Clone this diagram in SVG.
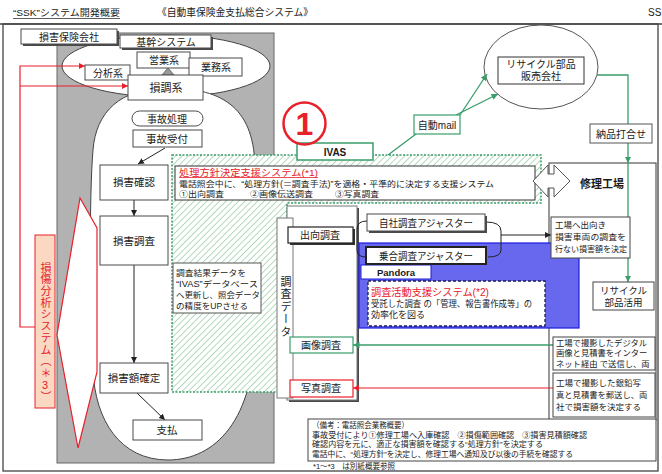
<svg xmlns="http://www.w3.org/2000/svg" width="662" height="474" viewBox="0 0 662 474" font-size="10">
<defs>
<style>
text{font-family:"Liberation Sans","Noto Sans CJK JP","Noto Sans CJK SC",sans-serif;fill:#1a1a1a}
.m{text-anchor:middle}
.n{font-size:10.5px}
.b{fill:#fff;stroke:#4a4a4a;stroke-width:1}
.sh{fill:#4a4a4a}
.lat{font-weight:bold}
.r{fill:#e8202a}
.vt{writing-mode:vertical-rl;text-orientation:upright}
.kl{stroke:#222;stroke-width:1;fill:none}
.gl{stroke:#3a9d6a;stroke-width:1.3;fill:none}
.rl{stroke:#e8202a;stroke-width:1.2;fill:none}
</style>
<pattern id="hatch" width="4.5" height="4.5" patternUnits="userSpaceOnUse" patternTransform="rotate(45)">
<rect width="4.5" height="4.5" fill="#fff"/>
<line x1="0" y1="0" x2="0" y2="4.5" stroke="#8cc79a" stroke-width="1.3"/>
</pattern>
<marker id="ak" viewBox="0 0 10 10" refX="10" refY="5" markerWidth="6" markerHeight="6" orient="auto"><path d="M0,0 L10,5 L0,10 z" fill="#222"/></marker>
<marker id="ag" viewBox="0 0 10 10" refX="10" refY="5" markerWidth="5" markerHeight="5" orient="auto"><path d="M0,0 L10,5 L0,10 z" fill="#3a9d6a"/></marker>
<marker id="ar" viewBox="0 0 10 10" refX="10" refY="5" markerWidth="5" markerHeight="5" orient="auto"><path d="M0,0 L10,5 L0,10 z" fill="#e8202a"/></marker>
</defs>
<rect x="0" y="0" width="662" height="474" fill="#fff"/>

<g id="header">
<text x="13" y="16" font-size="9.5" textLength="107" lengthAdjust="spacingAndGlyphs">“SSK”システム開発概要</text>
<line x1="13" y1="18.5" x2="120" y2="18.5" stroke="#333" stroke-width="0.8"/>
<text x="157" y="16" font-size="9.8" textLength="156" lengthAdjust="spacingAndGlyphs">《自動車保険金支払総合システム》</text>
<text x="648" y="16">SS</text>
<line x1="0" y1="24" x2="662" y2="24" stroke="#444" stroke-width="1.3"/>
</g>

<g id="frame">
<rect x="3" y="24" width="655" height="447" fill="none" stroke="#444" stroke-width="1.3"/>
<rect x="57" y="33" width="217" height="430" fill="#b2b2b2" stroke="#666"/>
<ellipse cx="166" cy="66" rx="104" ry="31" fill="#fff" stroke="#444"/>
<path d="M168,88 C225,88 255,110 255,170 L255,330 C255,420 215,460 168,460 C120,460 95,420 93,370 C90,300 89,200 93,150 C96,112 120,88 168,88 Z" fill="#fff" stroke="#444"/>
</g>

<g id="callout">
<polygon points="80,198 97,228 97,372 78,448 57,335" fill="#fff" stroke="#e8202a" stroke-width="1.2"/>
</g>

<g id="damage-analysis">
<rect x="35" y="235" width="20" height="173" fill="#fbd8c2" stroke="#e8202a"/>
<text x="45" y="262" class="vt r" font-size="11" letter-spacing="0.7">損傷分析システム（＊3）</text>
</g>

<g id="policy-support">
<polygon points="172,155 541,155 541,203 287,203 287,392 172,392" fill="url(#hatch)" stroke="#3a9d6a" stroke-width="1.5" stroke-dasharray="2 1.5"/>
<rect x="175" y="166" width="360" height="34" fill="#fff" stroke="#333"/>
<text x="179" y="175.5" class="r" font-size="9.5" textLength="139" lengthAdjust="spacingAndGlyphs">処理方針決定支援システム(*1)</text>
<line x1="179" y1="177.5" x2="318" y2="177.5" stroke="#e8202a" stroke-width="0.8"/>
<text x="179" y="187" font-size="8.5" textLength="315" lengthAdjust="spacingAndGlyphs">電話照会中に、“処理方針(＝調査手法)”を適格・平準的に決定する支援システム</text>
<text x="179" y="197.3" font-size="8.5" textLength="45" lengthAdjust="spacingAndGlyphs">①出向調査</text>
<text x="250" y="197.3" font-size="8.5" textLength="63" lengthAdjust="spacingAndGlyphs">②画像伝送調査</text>
<text x="335" y="197.3" font-size="8.5" textLength="44" lengthAdjust="spacingAndGlyphs">③写真調査</text>
</g>

<g id="ivas-update">
<rect x="173" y="263" width="88" height="50" fill="#fff" stroke="#555"/>
<text x="176" y="275.5" font-size="8.5" textLength="70" lengthAdjust="spacingAndGlyphs">調査結果データを</text>
<text x="176" y="286.5" font-size="8.5" textLength="82" lengthAdjust="spacingAndGlyphs">“IVAS”データベース</text>
<text x="176" y="297.5" font-size="8.5" textLength="84" lengthAdjust="spacingAndGlyphs">へ更新し、照会データ</text>
<text x="176" y="308.5" font-size="8.5" textLength="72" lengthAdjust="spacingAndGlyphs">の精度をUPさせる</text>
</g>

<g id="repair-shop">
<rect x="549" y="163" width="107" height="257" fill="#fff" stroke="#555" stroke-width="1.2"/>
<text x="602" y="188" class="m" font-size="11" font-weight="bold">修理工場</text>
<polygon points="533,181 548,165 548,174 554,174 554,165 570,181 554,197 554,188 548,188 548,197" fill="#fff" stroke="#555"/>
</g>

<g id="survey-frame">
<rect x="289" y="208" width="70" height="194" class="sh"/>
<rect x="287" y="206" width="70" height="194" fill="#fff" stroke="#777"/>
</g>

<g id="survey-data">
<rect x="277" y="218" width="16" height="180" fill="#fff" stroke="#777"/>
<text x="285" y="276" class="vt" font-size="11" letter-spacing="1.5">調査データ</text>
</g>

<g id="pandora">
<rect x="359" y="243" width="220" height="85" fill="#6868ef" stroke="#1c1ce0" stroke-width="1.2"/>
<rect x="361" y="265" width="70" height="14" fill="#fff" stroke="#1c1ce0"/>
<text x="396" y="276" class="m lat" font-size="9.5">Pandora</text>
<rect x="368" y="281" width="177" height="45" fill="#fff" stroke="#1a1a5a" stroke-width="1.3" stroke-dasharray="3 2"/>
<text x="371" y="296" class="r" textLength="118" lengthAdjust="spacingAndGlyphs">調査活動支援システム(*2)</text>
<text x="371" y="307" font-size="8.8" textLength="161" lengthAdjust="spacingAndGlyphs">受託した調査 の「管理、報告書作成等」の</text>
<text x="371" y="318" font-size="8.8" textLength="54" lengthAdjust="spacingAndGlyphs">効率化を図る</text>
</g>

<g id="recycle-company">
<ellipse cx="541" cy="67" rx="57" ry="42" fill="#fff" stroke="#555"/>
<rect x="498" y="57" width="86" height="27" fill="#fff" stroke="#333"/>
<text x="541" y="68" class="m">リサイクル部品</text>
<text x="541" y="80" class="m">販売会社</text>
</g>

<g id="connectors">
<polyline points="35,327 20,327 20,66 85,66" class="rl" marker-end="url(#ar)"/>
<line x1="20" y1="86" x2="128" y2="86" class="rl" marker-end="url(#ar)"/>
<line x1="165" y1="148" x2="138" y2="164" class="kl" marker-end="url(#ak)"/>
<line x1="134" y1="200" x2="134" y2="216" class="kl" marker-end="url(#ak)"/>
<line x1="134" y1="265" x2="134" y2="363" class="kl" marker-end="url(#ak)"/>
<line x1="137" y1="393" x2="165" y2="420" class="kl" marker-end="url(#ak)"/>
<line x1="388" y1="155" x2="416" y2="134" class="gl"/>
<line x1="460" y1="115" x2="487" y2="74" class="gl" marker-end="url(#ag)"/>
<line x1="456" y1="115" x2="498" y2="94" class="gl" marker-end="url(#ag)"/>
<polyline points="597,75 628,75 628,163" class="gl" marker-end="url(#ag)"/>
<line x1="628" y1="163" x2="628" y2="217" class="gl"/>
<line x1="628" y1="258" x2="628" y2="282" class="gl" marker-end="url(#ag)"/>
<line x1="553" y1="345" x2="353" y2="345" class="gl" marker-end="url(#ag)"/>
<line x1="553" y1="388" x2="353" y2="388" class="rl" marker-end="url(#ar)"/>
<path d="M367,221 Q357,221 357,229 L357,250 Q357,257 366,257" class="kl" stroke="#444"/>
<path d="M486,222 Q501,222 501,231 L501,250 Q501,257 488,257" class="kl" stroke="#444"/>
<line x1="501" y1="235" x2="551" y2="235" class="kl" marker-end="url(#ak)"/>
</g>

<g id="insurer">
<rect x="23" y="31" width="96" height="15" class="sh"/>
<rect x="21" y="29" width="96" height="15" class="b"/>
<text x="69" y="40.5" class="m">損害保険会社</text>
</g>
<g id="core-system">
<rect x="122" y="37" width="91" height="13" class="sh"/>
<rect x="120" y="35" width="91" height="13" class="b"/>
<text x="166" y="45.5" class="m">基幹システム</text>
</g>
<g id="sales">
<rect x="137" y="52" width="53" height="16" class="b"/>
<text x="164" y="64" class="m">営業系</text>
</g>
<g id="business">
<rect x="189" y="58" width="53" height="18" class="b"/>
<text x="216" y="71" class="m">業務系</text>
</g>
<g id="analysis">
<rect x="85" y="65" width="45" height="15" class="b"/>
<text x="108" y="76.5" class="m">分析系</text>
</g>
<polygon points="162,75 174,75 168,68" fill="#999" stroke="#666"/>
<g id="claims">
<rect x="128" y="75" width="75" height="25" class="b"/>
<text x="166" y="91.5" class="m" font-size="11">損調系</text>
</g>
<g id="accident-handling">
<rect x="132" y="111" width="71" height="15" rx="7.5" class="b"/>
<text x="167" y="122.5" class="m">事故処理</text>
</g>
<g id="accident-reception">
<rect x="133" y="130" width="69" height="17" class="b"/>
<text x="167" y="142.5" class="m n">事故受付</text>
</g>
<g id="damage-check">
<rect x="100" y="165" width="68" height="35" class="b"/>
<text x="134" y="186" class="m n">損害確認</text>
</g>
<g id="damage-survey">
<rect x="100" y="216" width="68" height="49" class="b"/>
<text x="134" y="245" class="m n">損害調査</text>
</g>
<g id="damage-amount">
<rect x="100" y="363" width="68" height="30" class="b"/>
<text x="134" y="382" class="m n">損害額確定</text>
</g>
<g id="payment">
<rect x="133" y="420" width="69" height="20" class="b"/>
<text x="167" y="434" class="m n">支払</text>
</g>

<g id="ivas">
<rect x="297" y="143" width="76" height="17" fill="#fff" stroke="#3a9d6a" stroke-width="1.5"/>
<text x="335" y="156" class="m lat" font-size="10">IVAS</text>
</g>
<g id="marker-1">
<circle cx="304.5" cy="123.5" r="21" fill="none" stroke="#e8202a" stroke-width="2.5"/>
<text x="304.5" y="135" class="m lat r" font-size="32">1</text>
</g>
<g id="auto-mail">
<rect x="414" y="115" width="46" height="19" fill="#fff" stroke="#3a9d6a" stroke-width="1.2"/>
<text x="437" y="128.5" class="m">自動mail</text>
</g>
<g id="delivery-meeting">
<rect x="590" y="124" width="62" height="19" fill="#fff" stroke="#555"/>
<text x="621" y="137.5" class="m">納品打合せ</text>
</g>
<g id="field-survey">
<rect x="290" y="229" width="65" height="16" fill="#333"/>
<rect x="288" y="227" width="65" height="16" fill="#fff" stroke="#222" stroke-width="1.2"/>
<text x="320" y="239" class="m">出向調査</text>
</g>
<g id="own-adjuster">
<rect x="369" y="216" width="118" height="17" class="sh"/>
<rect x="367" y="214" width="118" height="17" class="b"/>
<text x="426" y="226.5" class="m" textLength="94" lengthAdjust="spacingAndGlyphs">自社調査アジャスター</text>
</g>
<g id="shared-adjuster">
<rect x="366" y="247" width="120" height="17" fill="#fff" stroke="#222" stroke-width="2"/>
<text x="426" y="259.5" class="m" textLength="94" lengthAdjust="spacingAndGlyphs">乗合調査アジャスター</text>
</g>
<g id="image-survey">
<rect x="290" y="337" width="63" height="16" fill="#fff" stroke="#3a9d6a" stroke-width="1.2"/>
<text x="321" y="349" class="m">画像調査</text>
</g>
<g id="photo-survey">
<rect x="290" y="380" width="63" height="17" fill="#fff" stroke="#e8202a" stroke-width="1.2"/>
<text x="321" y="392" class="m">写真調査</text>
</g>
<g id="shop-visit">
<rect x="551" y="217" width="79" height="41" fill="#fff" stroke="#444"/>
<text x="555" y="227.5" font-size="8.5">工場へ出向き</text>
<text x="555" y="239.5" font-size="8.5" textLength="71" lengthAdjust="spacingAndGlyphs">損害車両の調査を</text>
<text x="555" y="251.5" font-size="8.5" textLength="72" lengthAdjust="spacingAndGlyphs">行ない損害額を決定</text>
</g>
<g id="recycle-use">
<rect x="593" y="282" width="61" height="28" fill="#fff" stroke="#444"/>
<text x="623.5" y="294" class="m" font-size="9.5">リサイクル</text>
<text x="623.5" y="306" class="m" font-size="9.5">部品活用</text>
</g>
<g id="digital-photo">
<rect x="553" y="337" width="102" height="33" fill="#fff" stroke="#444"/>
<text x="556" y="346" font-size="8.3">工場で撮影したデジタル</text>
<text x="556" y="356.3" font-size="8.3">画像と見積書をインター</text>
<text x="556" y="366.6" font-size="8.3">ネット経由 で送信し、両</text>
</g>
<g id="film-photo">
<rect x="553" y="373" width="102" height="44" fill="#fff" stroke="#444"/>
<text x="556" y="386" font-size="8.5">工場で撮影した銀鉛写</text>
<text x="556" y="398" font-size="8.3">真と見積書を郵送し、両</text>
<text x="556" y="410" font-size="8.5">社で損害額を決定する</text>
</g>
<g id="notes">
<rect x="308" y="419" width="348" height="42" fill="#fff" stroke="#444"/>
<text x="312" y="428" font-size="8" textLength="97" lengthAdjust="spacingAndGlyphs">（備考：電話照会業務概要）</text>
<text x="312" y="437.7" font-size="8" textLength="275" lengthAdjust="spacingAndGlyphs">事故受付により①修理工場へ入庫確認　②損傷範囲確認　③損害見積額確認</text>
<text x="312" y="447.4" font-size="8" textLength="231" lengthAdjust="spacingAndGlyphs">確認内容を元に、適正な損害額を確認する“処理方針”を決定する</text>
<text x="312" y="457.1" font-size="8" textLength="261" lengthAdjust="spacingAndGlyphs">電話中に、“処理方針”を決定し、修理工場へ通知及び以後の手続を確認する</text>
<text x="313" y="468.5" font-size="7.5" textLength="82" lengthAdjust="spacingAndGlyphs">*1〜*3　は別紙概要参照</text>
</g>
</svg>
